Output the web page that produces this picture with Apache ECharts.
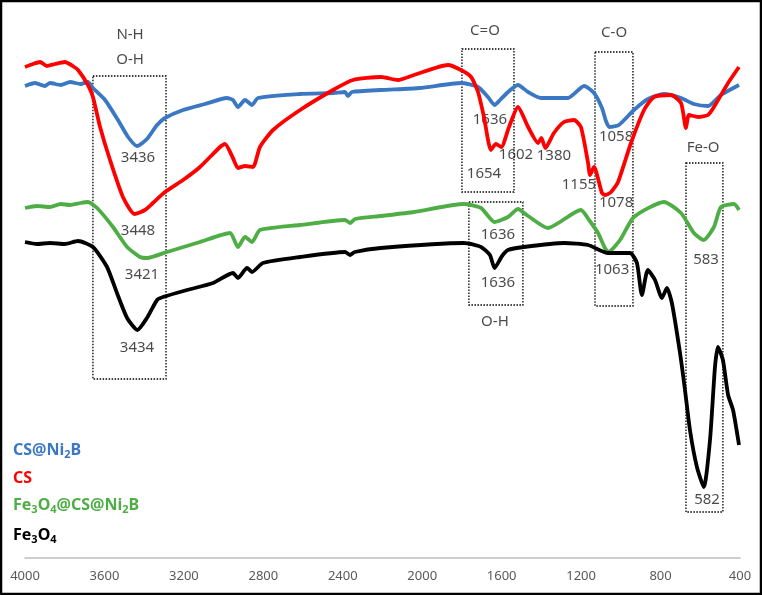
<!DOCTYPE html>
<html>
<head>
<meta charset="utf-8">
<script src="https://cdn.jsdelivr.net/npm/echarts@6/dist/echarts.min.js"></script>
<style>
  html, body { margin: 0; padding: 0; background: #fff; }
  #main { width: 762px; height: 595px; }
</style>
</head>
<body>
<div id="main"></div>
<script>
// 波数刻度
var xTicks = [4000, 3600, 3200, 2800, 2400, 2000, 1600, 1200, 800, 400];

// 各样品的FTIR曲线 [波数, 相对透过率(任意单位)]
var csNi2B = [
  [4000,472],[3950,475],[3900,472],[3874,475],[3820,473],[3773,476],[3720,474],[3683,476],[3658,470],
  [3597,458],[3532,438],[3481,421],[3436,412],[3386,419],[3335,433],[3295,440],[3204,448],
  [3094,454],[2983,460],[2953,458],[2928,451],[2892,458],[2857,453],[2827,460],[2615,464],
  [2449,465],[2389,466],[2374,462],[2354,466],[2208,468],[2011,470],[1805,475],[1719,471],
  [1669,461],[1636,453],[1608,458],[1568,466],[1518,473],[1467,466],[1402,460],[1266,460],
  [1185,472],[1135,465],[1095,450],[1075,437],[1058,431],[1010,433],[934,448],[863,459],
  [783,464],[697,460],[632,454],[561,452],[496,463],[405,473]
];
var cs = [
  [4000,491],[3960,494],[3924,496],[3890,492],[3849,494],[3799,496],[3760,492],[3733,488],[3683,473],
  [3658,461],[3622,431],[3572,398],[3507,361],[3448,344],[3396,348],[3356,355],[3295,366],
  [3204,378],[3119,391],[3018,411],[2993,414],[2953,400],[2928,390],[2892,392],[2852,391],
  [2817,411],[2751,428],[2615,448],[2449,468],[2349,478],[2208,481],[2122,478],[2041,483],
  [1870,493],[1805,488],[1754,481],[1719,466],[1689,441],[1654,408],[1629,414],[1602,411],
  [1563,431],[1518,451],[1467,431],[1417,415],[1400,420],[1380,410],[1337,425],[1286,436],
  [1236,438],[1201,431],[1165,395],[1155,383],[1135,391],[1095,365],[1078,363],[1049,366],
  [1014,376],[949,415],[883,448],[833,461],[747,463],[697,455],[672,430],[657,443],[611,441],
  [561,443],[531,451],[460,475],[405,491]
];
var fe3o4CsNi2B = [
  [4000,350],[3940,352],[3874,351],[3820,354],[3773,353],[3720,355],[3683,356],[3637,350],
  [3557,331],[3486,311],[3421,301],[3386,300],[3285,306],[3119,316],[2968,325],[2928,311],
  [2892,321],[2857,316],[2817,328],[2615,333],[2389,338],[2364,335],[2338,339],[2208,342],
  [2041,346],[1790,354],[1704,350],[1636,336],[1568,341],[1518,349],[1467,342],[1367,330],
  [1201,348],[1160,338],[1115,325],[1080,310],[1063,306],[1004,318],[934,341],[783,356],
  [697,345],[632,325],[583,318],[531,331],[496,351],[430,354],[405,348]
];
var fe3o4 = [
  [4000,316],[3940,314],[3874,315],[3800,314],[3733,317],[3658,311],[3587,291],[3537,265],
  [3486,240],[3434,228],[3386,240],[3335,258],[3305,261],[3184,268],[3053,275],[2953,285],
  [2928,280],[2882,290],[2857,286],[2802,295],[2615,301],[2389,306],[2364,303],[2340,306],
  [2208,310],[1790,315],[1704,311],[1659,303],[1636,290],[1598,302],[1568,308],[1488,311],
  [1286,315],[1165,313],[1065,305],[954,305],[919,295],[894,263],[864,288],[828,278],
  [793,260],[768,270],[743,255],[702,205],[677,168],[652,128],[617,91],[582,71],[551,118],
  [526,191],[511,211],[486,198],[460,163],[435,148],[405,113]
];

// 峰位标注 [波数, 位置, 文字]
var peakLabels = [
  [3431,400,'3436'],[3431,327,'3448'],[3411,283,'3421'],[3436,210,'3434'],
  [1659,438,'1636'],[1528,403,'1602'],[1337,402,'1380'],[1689,384,'1654'],
  [1211,373,'1155'],[1024,421,'1058'],[1024,355,'1078'],[1619,323,'1636'],
  [1619,275,'1636'],[1044,288,'1063'],[571,298,'583'],[566,58,'582']
];
// 官能团标注
var groupLabels = [
  [3471,523,'N-H'],[3471,498,'O-H'],[1684,527,'C=O'],[1634,236,'O-H'],
  [1034,525,'C-O'],[586,410,'Fe-O']
];
// 虚线框 [波数1, 值1, 波数2, 值2]
var boxes = [
  [3658,482,3290,179],[1800,509,1538,366],[1765,356,1493,253],
  [1130,506,939,252],[672,395,486,46]
];

var chart = echarts.init(document.getElementById('main'));

var textFont = '"Noto Sans", sans-serif';
function lineSeries(name, data, color) {
  return {
    name: name,
    type: 'line',
    data: data,
    smooth: 0.2,
    showSymbol: false,
    lineStyle: { color: color, width: 3.8 },
    itemStyle: { color: color },
    z: 3
  };
}

function legendText(parts, color, y) {
  var text = parts.map(function (p) { return p[1] ? '{s|' + p[0] + '}' : '{n|' + p[0] + '}'; }).join('');
  return {
    type: 'text',
    left: 13,
    top: y,
    style: {
      text: text,
      rich: {
        n: { fontSize: 16, fontWeight: 'bold', fontFamily: textFont, fill: color, height: 20 },
        s: { fontSize: 11, fontWeight: 'bold', fontFamily: textFont, fill: color, height: 20, padding: [9, 0, 0, 0] }
      }
    }
  };
}

option = {
  animation: false,
  grid: { left: 25, right: 22, top: 18, bottom: 37 },
  xAxis: {
    type: 'value',
    inverse: true,
    min: 400,
    max: 4000,
    interval: 400,
    axisLine: { lineStyle: { color: '#BFBFBF', width: 1.5 } },
    axisTick: { show: false },
    splitLine: { show: false },
    axisLabel: {
      color: '#595959', fontSize: 13, fontFamily: textFont, margin: 12,
      formatter: function (v) { return String(v); }
    }
  },
  yAxis: { type: 'value', min: 0, max: 540, show: false },
  series: [
    lineSeries('CS@Ni2B', csNi2B, '#3A78C3'),
    lineSeries('CS', cs, '#FF0000'),
    lineSeries('Fe3O4@CS@Ni2B', fe3o4CsNi2B, '#4EAE45'),
    lineSeries('Fe3O4', fe3o4, '#000000'),
    {
      name: 'labels',
      type: 'scatter',
      symbolSize: 0,
      silent: true,
      data: peakLabels.concat(groupLabels),
      label: {
        show: true,
        position: 'inside',
        formatter: function (p) { return p.data[2]; },
        color: '#1a1a1a',
        fontSize: 15,
        fontFamily: textFont
      },
      markArea: {
        silent: true,
        itemStyle: { color: 'rgba(0,0,0,0)', borderColor: '#000', borderWidth: 1.3, borderType: [1.5, 1.5] },
        data: boxes.map(function (b) {
          return [{ coord: [b[0], b[1]] }, { coord: [b[2], b[3]] }];
        })
      },
      z: 2
    }
  ],
  graphic: [
    { type: 'rect', shape: { x: 1, y: 1, width: 760, height: 593 }, style: { fill: 'none', stroke: '#000', lineWidth: 2.5 } },
    legendText([['CS@Ni'], ['2', 1], ['B']], '#3A78C3', 442),
    legendText([['CS']], '#FF0000', 470),
    legendText([['Fe'], ['3', 1], ['O'], ['4', 1], ['@CS@Ni'], ['2', 1], ['B']], '#4EAE45', 497),
    legendText([['Fe'], ['3', 1], ['O'], ['4', 1]], '#000000', 527)
  ]
};

chart.setOption(option);
</script>
</body>
</html>
